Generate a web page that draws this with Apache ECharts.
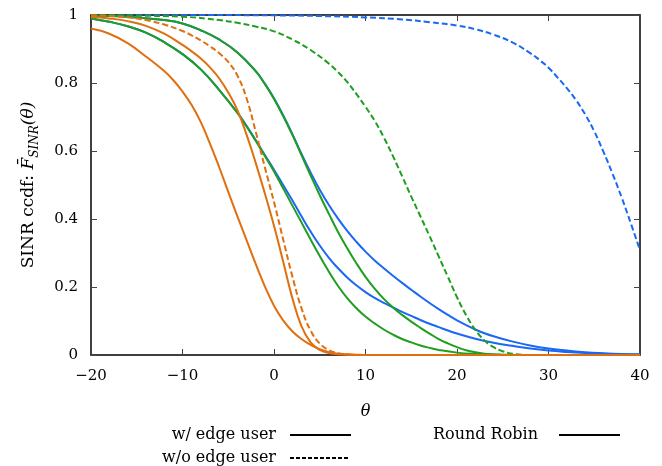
<!DOCTYPE html>
<html>
<head>
<meta charset="utf-8">
<script src="https://cdn.jsdelivr.net/npm/echarts@6/dist/echarts.min.js"></script>
<style>
html,body{margin:0;padding:0;background:#fff;}
#chart{width:662px;height:466px;}
</style>
</head>
<body>
<div id="chart"></div>
<script>
// ---- data (theta in dB, ccdf values) ----
const xTicks = [-20, -10, 0, 10, 20, 30, 40];
const yTicks = [0, 0.2, 0.4, 0.6, 0.8, 1];

// orange, solid (leftmost)
const thetaO1 = [-20,-18,-16,-14,-12,-11,-10,-9,-8,-7,-6,-5,-4,-3,-2,-1,0,1,2,3,4,5,6,7,8,9,10,12,40];
const ccdfO1  = [0.96,0.945,0.917,0.878,0.835,0.808,0.775,0.735,0.685,0.622,0.553,0.48,0.408,0.338,0.268,0.202,0.145,0.102,0.07,0.047,0.03,0.017,0.009,0.004,0.002,0.001,0,0,0];
// orange, solid (second)
const thetaO2 = [-20,-18,-16,-14,-12,-10,-9,-8,-7,-6,-5,-4,-3,-2,-1,0,1,2,3,4,5,6,7,8,9,10,40];
const ccdfO2  = [0.995,0.99,0.982,0.968,0.945,0.912,0.893,0.872,0.846,0.814,0.772,0.72,0.648,0.565,0.475,0.38,0.275,0.168,0.085,0.037,0.015,0.006,0.002,0.001,0,0,0];
// orange, dashed
const thetaO3 = [-20,-18,-16,-14,-12,-10,-9,-8,-7,-6,-5,-4,-3,-2,-1,0,1,2,3,4,5,6,7,8,9,10,40];
const ccdfO3  = [0.999,0.997,0.993,0.985,0.972,0.953,0.94,0.925,0.908,0.888,0.862,0.822,0.755,0.657,0.552,0.45,0.34,0.232,0.138,0.072,0.034,0.014,0.005,0.002,0,0,0];
// green, solid (first)
const thetaG1 = [-20,-18,-16,-14,-12,-10,-8,-6,-4,-3,-2,-1,0,1,2,3,4,5,6,7,8,9,10,11,12,13,14,15,16,17,18,20,22,24,26,40];
const ccdfG1  = [0.99,0.98,0.967,0.948,0.92,0.885,0.84,0.78,0.712,0.672,0.63,0.585,0.54,0.49,0.44,0.39,0.34,0.291,0.245,0.203,0.167,0.138,0.113,0.093,0.075,0.06,0.047,0.037,0.028,0.021,0.015,0.007,0.003,0.001,0,0];
// green, solid (second)
const thetaG2 = [-20,-16,-12,-10,-8,-6,-4,-2,-1,0,1,2,3,4,5,6,7,8,9,10,11,12,13,14,15,16,17,18,19,20,21,22,23,24,25,26,40];
const ccdfG2  = [0.998,0.995,0.985,0.975,0.955,0.928,0.89,0.835,0.797,0.753,0.703,0.648,0.588,0.528,0.47,0.415,0.362,0.314,0.27,0.23,0.195,0.165,0.14,0.118,0.098,0.08,0.063,0.047,0.034,0.023,0.014,0.008,0.004,0.002,0.001,0,0];
// green, dashed
const thetaG3 = [-20,-15,-10,-6,-4,-2,0,2,4,6,7,8,9,10,11,12,13,14,15,16,17,18,19,20,21,22,23,24,25,26,27,28,40];
const ccdfG3  = [1.0,0.998,0.995,0.985,0.977,0.966,0.952,0.928,0.897,0.857,0.832,0.803,0.768,0.73,0.689,0.64,0.585,0.526,0.466,0.408,0.35,0.29,0.23,0.17,0.117,0.074,0.043,0.023,0.011,0.004,0.001,0,0];
// blue, solid (first)
const thetaB1 = [-20,-18,-16,-14,-12,-10,-8,-6,-4,-3,-2,-1,0,1,2,3,4,5,6,7,8,9,10,11,12,13,14,15,16,17,18,19,20,22,24,26,28,30,32,34,36,38,40];
const ccdfB1  = [0.99,0.98,0.967,0.948,0.92,0.885,0.84,0.78,0.713,0.674,0.632,0.588,0.545,0.5,0.455,0.408,0.363,0.322,0.286,0.255,0.228,0.205,0.185,0.168,0.153,0.14,0.127,0.115,0.103,0.092,0.082,0.072,0.063,0.048,0.036,0.027,0.019,0.013,0.009,0.006,0.004,0.002,0.001];
// blue, solid (second)
const thetaB2 = [-20,-16,-12,-10,-8,-6,-4,-2,-1,0,1,2,3,4,5,6,7,8,9,10,11,12,13,14,15,16,17,18,19,20,21,22,23,24,26,28,30,32,34,36,38,40];
const ccdfB2  = [0.998,0.995,0.985,0.975,0.955,0.928,0.89,0.835,0.798,0.755,0.705,0.65,0.592,0.537,0.486,0.441,0.401,0.365,0.333,0.304,0.278,0.255,0.233,0.212,0.192,0.172,0.153,0.135,0.118,0.102,0.088,0.075,0.064,0.055,0.04,0.028,0.019,0.013,0.008,0.005,0.003,0.002];
// blue, dashed
const thetaB3 = [-20,-10,0,5,10,14,17,20,22,24,26,28,29,30,31,32,33,34,35,36,37,38,39,40];
const ccdfB3  = [1.0,1.0,0.999,0.997,0.993,0.987,0.979,0.969,0.958,0.942,0.92,0.888,0.868,0.845,0.816,0.785,0.75,0.708,0.658,0.598,0.533,0.463,0.387,0.308];

const ORANGE = '#df6f0f', GREEN = '#1f9e1f', BLUE = '#1b68f4';
const FONT = 'DejaVu Serif';

function zip(xs, ys) { return xs.map((x, i) => [x, ys[i]]); }
function mk(name, xs, ys, color, dashed) {
  return {
    name: name, type: 'line', xAxisIndex: 0, yAxisIndex: 0,
    data: zip(xs, ys), showSymbol: false, symbol: 'none',
    smooth: 0.45,
    lineStyle: { color: color, width: 2, type: dashed ? [6, 3] : 'solid' },
    itemStyle: { color: color }, silent: true
  };
}

const chart = echarts.init(document.getElementById('chart'), null, { renderer: 'canvas' });
const fmtX = v => String(v).replace('-', '\u2212');
function axisCommon() {
  return {
    axisLine: { show: true, onZero: false, lineStyle: { color: '#000', width: 1.5 } },
    axisTick: { show: true, inside: true, length: 6, lineStyle: { color: '#444', width: 1 } },
    splitLine: { show: false }
  };
}

chart.setOption({
  animation: false,
  backgroundColor: '#fff',
  grid: { left: 91, right: 22, top: 15, bottom: 111, containLabel: false },
  xAxis: [
    Object.assign({
      type: 'value', min: xTicks[0], max: xTicks[xTicks.length - 1], interval: 10, position: 'bottom',
      name: 'θ', nameLocation: 'middle', nameGap: 49,
      nameTextStyle: { fontFamily: FONT, fontStyle: 'italic', fontSize: 16, color: '#000' },
      axisLabel: { show: true, margin: 14, fontFamily: FONT, fontSize: 15, color: '#000', formatter: fmtX }
    }, axisCommon()),
    Object.assign({
      type: 'value', min: xTicks[0], max: xTicks[xTicks.length - 1], interval: 10, position: 'top',
      axisLabel: { show: false }
    }, axisCommon())
  ],
  yAxis: [
    Object.assign({
      type: 'value', min: yTicks[0], max: yTicks[yTicks.length - 1], interval: 0.2, position: 'left',
      name: '{n|SINR ccdf: }{i|F\u0304}{s|SINR}{i|(θ)}', nameLocation: 'middle', nameGap: 50, nameRotate: 90,
      nameTextStyle: {
        fontFamily: FONT, fontSize: 17, color: '#000',
        rich: {
          n: { fontFamily: FONT, fontSize: 17, lineHeight: 24, verticalAlign: 'middle', color: '#000' },
          i: { fontFamily: FONT, fontSize: 17, fontStyle: 'italic', lineHeight: 24, verticalAlign: 'middle', color: '#000' },
          s: { fontFamily: FONT, fontSize: 12, fontStyle: 'italic', lineHeight: 12, verticalAlign: 'bottom', color: '#000' }
        }
      },
      axisLabel: { show: true, margin: 13, fontFamily: FONT, fontSize: 15, color: '#000',
        formatter: v => (v === 0 ? '0' : v === 1 ? '1' : v.toFixed(1)) }
    }, axisCommon()),
    Object.assign({
      type: 'value', min: yTicks[0], max: yTicks[yTicks.length - 1], interval: 0.2, position: 'right',
      axisLabel: { show: false }
    }, axisCommon())
  ],
  series: [
    mk('B3', thetaB3, ccdfB3, BLUE, true),
    mk('B2', thetaB2, ccdfB2, BLUE, false),
    mk('B1', thetaB1, ccdfB1, BLUE, false),
    mk('G3', thetaG3, ccdfG3, GREEN, true),
    mk('G2', thetaG2, ccdfG2, GREEN, false),
    mk('G1', thetaG1, ccdfG1, GREEN, false),
    mk('O3', thetaO3, ccdfO3, ORANGE, true),
    mk('O2', thetaO2, ccdfO2, ORANGE, false),
    mk('O1', thetaO1, ccdfO1, ORANGE, false)
  ],
  graphic: [
    { type: 'text', right: 662 - 276, top: 427, style: { text: 'w/ edge user', font: '16px "DejaVu Serif"', fill: '#000', textAlign: 'right' } },
    { type: 'line', shape: { x1: 290, y1: 435, x2: 351, y2: 435 }, style: { stroke: '#000', lineWidth: 2 } },
    { type: 'text', right: 662 - 276, top: 450, style: { text: 'w/o edge user', font: '16px "DejaVu Serif"', fill: '#000', textAlign: 'right' } },
    { type: 'line', shape: { x1: 290, y1: 458, x2: 350, y2: 458 }, style: { stroke: '#000', lineWidth: 2, lineDash: [4, 2] } },
    { type: 'text', left: 433, top: 427, style: { text: 'Round Robin', font: '16px "DejaVu Serif"', fill: '#000' } },
    { type: 'line', shape: { x1: 559, y1: 435, x2: 620, y2: 435 }, style: { stroke: '#000', lineWidth: 2 } }
  ]
});
</script>
</body>
</html>
